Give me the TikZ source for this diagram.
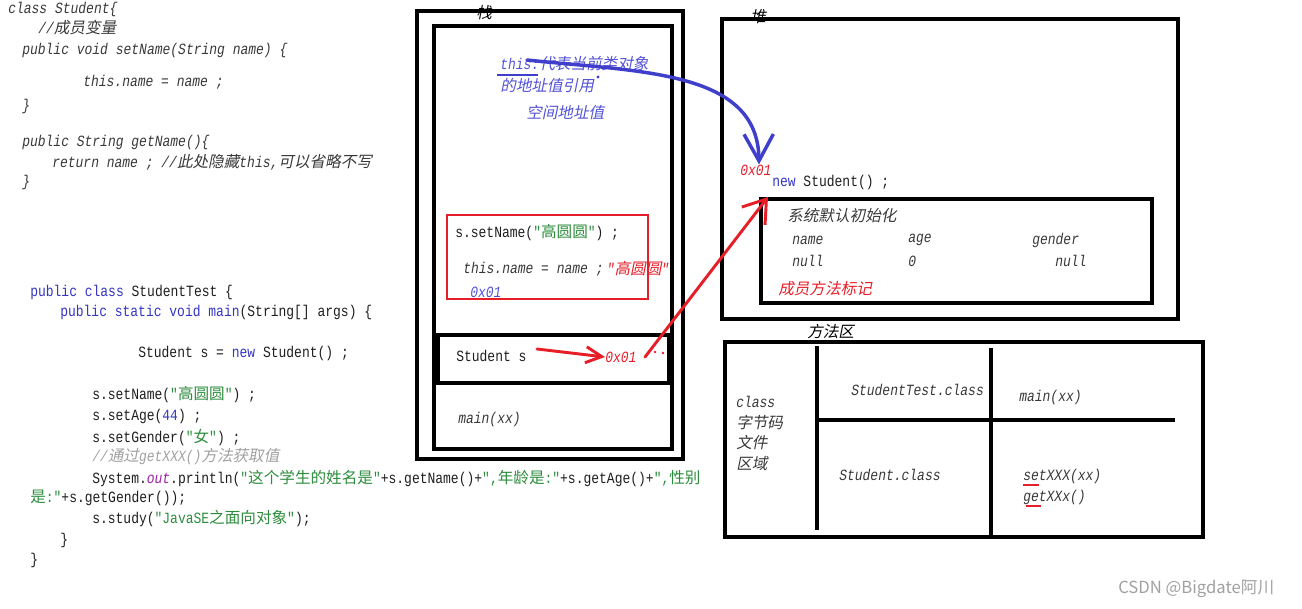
\documentclass[tikz,border=0pt]{standalone}
\usepackage{fontspec}
\setmonofont[Scale=1.2,FakeStretch=0.833]{Liberation Mono}
\newfontfamily\zhfont[Scale=1.2]{Noto Sans CJK SC}
\newfontfamily\zhslant[Scale=1.2,FakeSlant=0.2]{Noto Sans CJK SC}
\newfontfamily\markfont{Noto Sans CJK SC}
\usetikzlibrary{arrows.meta,positioning,calc}
\definecolor{JVkey}{HTML}{3434C4}
\definecolor{JVnote}{HTML}{5252D6}
\definecolor{JVline}{HTML}{3F3FCC}
\definecolor{JVstr}{HTML}{2C8C3C}
\definecolor{JVfield}{HTML}{9C22A8}
\definecolor{JVcomment}{HTML}{A0A0A0}
\definecolor{JVred}{HTML}{E61E28}
\definecolor{JVink}{HTML}{1E1E1E}
\definecolor{JVdim}{HTML}{383838}
\newcommand{\codefont}{\fontsize{9.75pt}{12pt}\selectfont\ttfamily}
\newcommand{\zh}[1]{{\zhfont #1}}
\newcommand{\zhi}[1]{{\zhslant #1}}

\begin{document}
\begin{tikzpicture}[
    x=0.75pt, y=-0.75pt,
    codeln/.style={anchor=west, inner sep=0pt, font=\codefont, text=JVink},
    codeit/.style={codeln, font=\codefont\itshape, text=JVdim},
    noteln/.style={codeit, text=JVnote},
    redln/.style={codeit, text=JVred},
    region/.style={draw=black, line width=2.3pt},
    ptrline/.style={line width=2.2pt, line cap=round}
  ]
  \useasboundingbox (0,0) rectangle (1302,609);

  % Class Student source
  \node[codeit] (cs1) at (8,9)    {class Student\{};
  \node[codeit] (cs2) at (38,28)  {//\zhi{成员变量}};
  \node[codeit] (cs3) at (22,50)  {public void setName(String name) \{};
  \node[codeit] (cs4) at (83,82)  {this.name = name ;};
  \node[codeit] (cs5) at (22,106) {\}};
  \node[codeit] (cs6) at (22,142) {public String getName()\{};
  \node[codeit] (cs7) at (52,162) {return name ; //\zhi{此处隐藏}this,\zhi{可以省略不写}};
  \node[codeit] (cs8) at (22,182) {\}};

  % StudentTest source
  \node[codeln] (st1)  at (30,292)  {\textcolor{JVkey}{public class} StudentTest \{};
  \node[codeln] (st2)  at (60,312)  {\textcolor{JVkey}{public static void main}(String[] args) \{};
  \node[codeln] (st3)  at (138,353) {Student s = \textcolor{JVkey}{new} Student() ;};
  \node[codeln] (st4)  at (92,395)  {s.setName(\textcolor{JVstr}{"\zh{高圆圆}"}) ;};
  \node[codeln] (st5)  at (92,416)  {s.setAge(\textcolor{JVkey}{44}) ;};
  \node[codeln] (st6)  at (92,437)  {s.setGender(\textcolor{JVstr}{"\zh{女}"}) ;};
  \node[codeit, text=JVcomment] (st7) at (92,457) {//\zhi{通过}getXXX()\zhi{方法获取值}};
  \node[codeln] (st8)  at (92,478)  {System.\textcolor{JVfield}{\itshape out}.println(\textcolor{JVstr}{"\zh{这个学生的姓名是}"}+s.getName()+\textcolor{JVstr}{",\zh{年龄是}:"}+s.getAge()+\textcolor{JVstr}{",\zh{性别}}};
  \node[codeln] (st9)  at (30,498)  {\textcolor{JVstr}{\zh{是}:"}+s.getGender());};
  \node[codeln] (st10) at (92,519)  {s.study(\textcolor{JVstr}{"JavaSE\zh{之面向对象}"});};
  \node[codeln] (st11) at (60,540)  {\}};
  \node[codeln] (st12) at (30,560)  {\}};

  % Stack
  \draw[region] (417,11) rectangle (683,459);
  \draw[region] (434,26) rectangle (672,449);
  \node[codeit, text=black] (stacklbl) at (476,13) {\zhi{栈}};
  \node[noteln] (thisnote) at (500,64)  {this:\zhi{代表当前类对象}};
  \node[noteln] (refnote)  at (500,86)  {\zhi{的地址值引用}};
  \node[noteln] (addrnote) at (526,113) {\zhi{空间地址值}};
  \draw[JVline, line width=2.2pt] (497,75) -- (538,75);
  \fill[JVline] (598,77) circle (1.6);

  \draw[JVred, line width=2pt] (447,215) rectangle (648,299);
  \node[codeln] (setcall) at (455,233) {s.setName(\textcolor{JVstr}{"\zh{高圆圆}"}) ;};
  \node[codeit] (assign)  at (463,269) {this.name = name ;};
  \node[redln, right=2pt of assign] (assignval) {"\zhi{高圆圆}"};
  \node[noteln] (thisaddr) at (470,292) {0x01};

  \draw[region] (438,335) rectangle (669,383);
  \node[codeln] (svar) at (456,356) {Student s};
  \node[redln] (stackaddr) at (605,357) {0x01};
  \fill[JVred] (655,352) circle (1.4) (663,353) circle (1.4);
  \node[codeit] (mainframe) at (458,419) {main(xx)};

  % Heap
  \draw[region] (722,19) rectangle (1178,319);
  \node[codeit, text=black] (heaplbl) at (750,17) {\zhi{堆}};
  \node[redln] (heapaddr) at (740,170) {0x01};
  \node[codeln] (newobj) at (772,182) {\textcolor{JVkey}{new} Student() ;};
  \draw[region] (761,199) rectangle (1152,303);
  \node[codeit] (initlbl) at (787,216) {\zhi{系统默认初始化}};
  \node[codeit] (fname)   at (792,240)  {name};
  \node[codeit] (fage)    at (908,240)  {age};
  \node[codeit] (fgender) at (1032,240) {gender};
  \node[codeit] (vname)   at (792,261)  {null};
  \node[codeit] (vage)    at (908,261)  {0};
  \node[codeit] (vgender) at (1055,261) {null};
  \node[redln] (methodtag) at (778,289) {\zhi{成员方法标记}};

  % Method area
  \node[codeit, text=black] (arealbl) at (807,332) {\zhi{方法区}};
  \draw[region] (725,342) rectangle (1203,537);
  \draw[line width=2.3pt] (817,346) -- (817,530);
  \draw[line width=2.3pt] (991,348) -- (991,538);
  \draw[line width=2.3pt] (817,420) -- (1175,420);
  \node[codeit] (bc1) at (736,402) {class};
  \node[codeit] (bc2) at (736,423) {\zhi{字节码}};
  \node[codeit] (bc3) at (736,443) {\zhi{文件}};
  \node[codeit] (bc4) at (736,464) {\zhi{区域}};
  \node[codeit] (testcls) at (851,390)  {StudentTest.class};
  \node[codeit] (mainm)   at (1019,397) {main(xx)};
  \node[codeit] (stucls)  at (839,475)  {Student.class};
  \node[codeit] (setm)    at (1023,476) {setXXX(xx)};
  \node[codeit] (getm)    at (1023,497) {getXXx()};
  \draw[JVred, line width=2pt] (1023,485) -- (1039,485);
  \draw[JVred, line width=2pt] (1026,506) -- (1041,506);

  % Pointers
  \coordinate (thisptr) at (527,60);
  \coordinate (refout) at (645,357);
  \coordinate (objin) at (768,197);
  \draw[JVline, ptrline, line width=2.6pt, -{Straight Barb[length=20pt, width=22pt]}]
    (thisptr) .. controls (640,72) and (758,70) .. (heapaddr.north -| 759,0);
  \draw[JVred, ptrline, -{Straight Barb[length=12pt, width=12pt]}] (537,349) -- (stackaddr.west);
  \draw[JVred, ptrline, -{Straight Barb[length=16pt, width=22pt]}] (refout) -- (objin);

  % Watermark
  \node[anchor=west, inner sep=0pt, text=JVcomment, font=\markfont\fontsize{12.5pt}{14pt}\selectfont] (mark) at (1118,589) {CSDN @Bigdate阿川};
\end{tikzpicture}
\end{document}
